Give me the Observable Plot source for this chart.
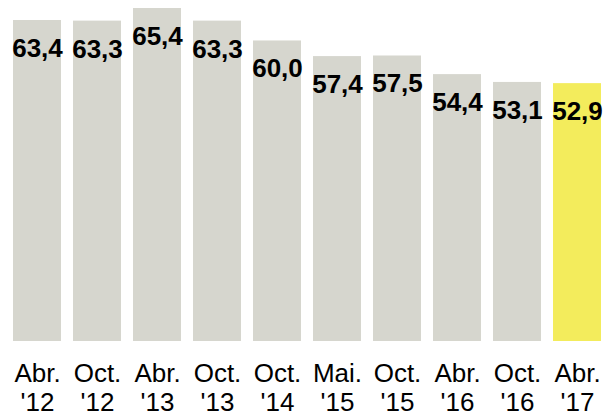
<!DOCTYPE html>
<html>
<head>
<meta charset="utf-8">
<script src="https://cdn.jsdelivr.net/npm/d3@7"></script>
<script src="https://cdn.jsdelivr.net/npm/@observablehq/plot@0.6"></script>
<style>
  html, body { margin: 0; padding: 0; background: #fff; }
  #chart svg { display: block; }
</style>
</head>
<body>
<div id="chart"></div>
<script>
const months = ["Abr.", "Oct.", "Abr.", "Oct.", "Oct.", "Mai.", "Oct.", "Abr.", "Oct.", "Abr."];
const years = ["'12", "'12", "'13", "'13", "'14", "'15", "'15", "'16", "'16", "'17"];
const values = [63.4, 63.3, 65.4, 63.3, 60.0, 57.4, 57.5, 54.4, 53.1, 52.9];
const highlight = [false, false, false, false, false, false, false, false, false, true];

const data = values.map((v, i) => ({
  key: i,
  label: months[i] + "\n" + years[i],
  value: v,
  hl: highlight[i]
}));

const fmt = v => v.toFixed(1).replace(".", ",");
const labelOf = new Map(data.map(d => [d.key, d.label]));

const chart = Plot.plot({
  width: 604,
  height: 412,
  marginTop: 8,
  marginBottom: 71,
  marginLeft: 13,
  marginRight: 3,
  style: { fontFamily: "'Liberation Sans', Arial, sans-serif", background: "#fff" },
  x: { domain: data.map(d => d.key), paddingInner: 0.2, paddingOuter: 0, align: 0.5, round: false },
  y: { domain: [10, 65.4], axis: null },
  marks: [
    Plot.barY(data, {
      x: "key",
      y1: 10,
      y2: "value",
      fill: d => d.hl ? "#f3ec5c" : "#d6d6ce"
    }),
    Plot.text(data, {
      x: "key",
      y: "value",
      text: d => fmt(d.value),
      lineAnchor: "top",
      dy: 18,
      fontSize: 26,
      fontWeight: "bold",
      fill: "#000"
    }),
    Plot.axisX({
      tickSize: 0,
      tickPadding: 20,
      fontSize: 26,
      lineHeight: 1.12,
      tickFormat: k => labelOf.get(k),
      fill: "#000",
      label: null
    })
  ]
});
document.getElementById("chart").appendChild(chart);
</script>
</body>
</html>
